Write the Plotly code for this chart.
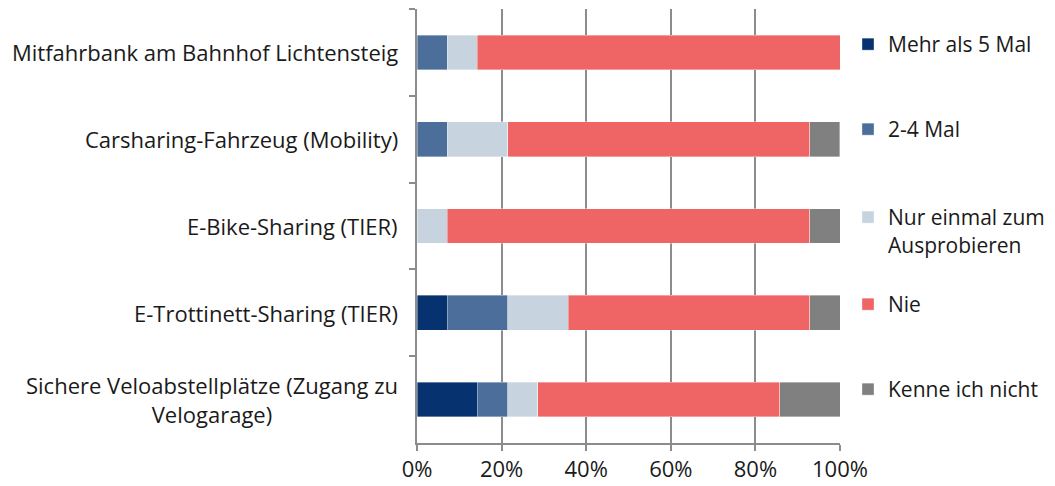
import plotly.graph_objects as go

categories = [
    "Mitfahrbank am Bahnhof Lichtensteig",
    "Carsharing-Fahrzeug (Mobility)",
    "E-Bike-Sharing (TIER)",
    "E-Trottinett-Sharing (TIER)",
    "Sichere Veloabstellplätze (Zugang zu<br>Velogarage)",
]
series_names = ["Mehr als 5 Mal", "2-4 Mal", "Nur einmal zum<br>Ausprobieren", "Nie", "Kenne ich nicht"]

mehr_als_5 = [0.0, 0.0, 0.0, 7.1, 14.3]
zwei_bis_vier = [7.1, 7.1, 0.0, 14.3, 7.1]
nur_einmal = [7.1, 14.3, 7.1, 14.3, 7.1]
nie = [85.8, 71.4, 85.8, 57.2, 57.2]
kenne_nicht = [0.0, 7.1, 7.1, 7.1, 14.3]

x_ticks = [0, 20, 40, 60, 80, 100]
x_ticklabels = ["0%", "20%", "40%", "60%", "80%", "100%"]

colors = ["#06336f", "#4b6e9a", "#c7d3df", "#ef6464", "#808080"]
FONT = "Open Sans, Noto Sans, sans-serif"
FS = 22
TXT = "#1a1a1a"
GREY = "#8c8c8c"
# the page body keeps the browser's 8px margin, so the figure is a bit smaller
W, H = 1047, 478

# first-line centre of each legend entry, in figure px from top
legend_rows = [37, 122, 210, 297, 382]

fig = go.Figure()
legend_ids = ["legend", "legend2", "legend3", "legend4", "legend5"]
for name, vals, col, lid in zip(series_names,
                                [mehr_als_5, zwei_bis_vier, nur_einmal, nie, kenne_nicht],
                                colors, legend_ids):
    fig.add_trace(go.Bar(
        y=categories, x=vals, name=name, orientation="h",
        marker=dict(color=col, line=dict(color="rgba(255,255,255,0.6)", width=0.6)),
        legend=lid,
    ))

# category labels as centred annotations (multi-line label is centred)
for cat in categories:
    fig.add_annotation(
        x=0, xref="paper", xshift=-17, y=cat, yref="y",
        text=cat, showarrow=False, xanchor="right", align="center",
        font=dict(family=FONT, size=FS, color=TXT),
    )

legend_cfg = {}
for lid, row in zip(legend_ids, legend_rows):
    legend_cfg[lid] = dict(
        xref="container", yref="container",
        x=840 / W, xanchor="left",
        y=1 - (row - 21) / H, yanchor="top",
        valign="top", itemwidth=30,
        font=dict(family=FONT, size=21, color=TXT),
        bgcolor="rgba(0,0,0,0)",
    )

fig.update_layout(
    width=W, height=H,
    barmode="stack", bargap=0.6,
    paper_bgcolor="white", plot_bgcolor="white",
    font=dict(family=FONT, size=FS, color=TXT),
    margin=dict(l=409, r=215, t=1, b=43, autoexpand=False),
    showlegend=True,
    xaxis=dict(
        range=[0, 100], tickvals=x_ticks, ticktext=x_ticklabels,
        showgrid=True, gridcolor=GREY, gridwidth=1.5,
        showline=True, linecolor=GREY, linewidth=1.5,
        ticks="outside", ticklen=6, tickcolor=GREY, tickwidth=1.5,
        zeroline=False, fixedrange=True, automargin=False,
    ),
    yaxis=dict(
        autorange="reversed", showticklabels=False,
        showline=True, linecolor=GREY, linewidth=1.5,
        ticks="outside", ticklen=6, tickcolor=GREY, tickwidth=1.5,
        tickson="boundaries", showgrid=False, fixedrange=True, automargin=False,
    ),
    **legend_cfg,
)

fig.write_html("out.html")
